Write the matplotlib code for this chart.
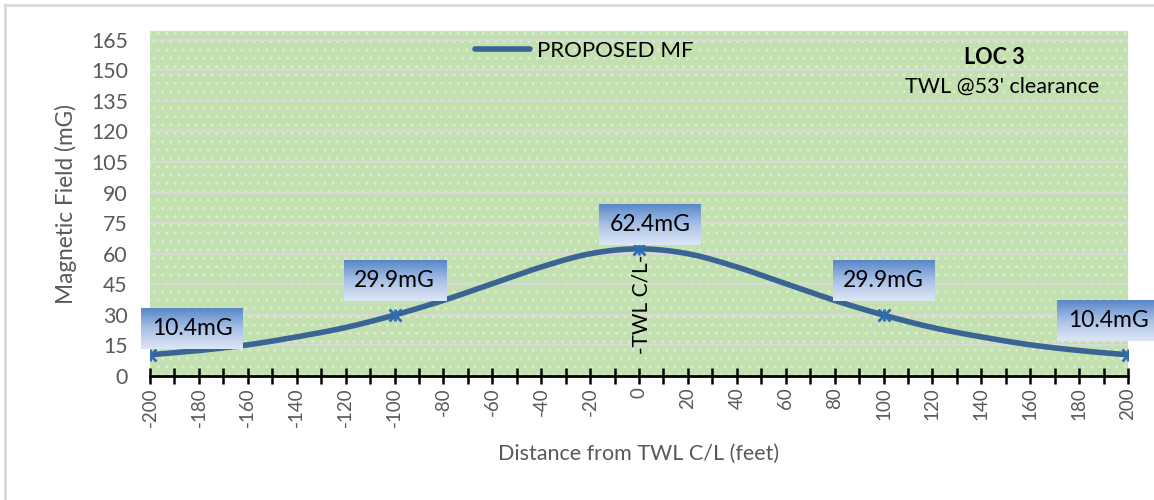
import matplotlib
matplotlib.use("Agg")
import matplotlib.pyplot as plt
import numpy as np
from matplotlib.patches import Rectangle
from matplotlib.lines import Line2D

plt.rcParams['font.family'] = ['Lato', 'DejaVu Sans']

# magnetic field profile across the line (every 20 ft)
distance = [-200, -180, -160, -140, -120, -100, -80, -60, -40, -20, 0,
            20, 40, 60, 80, 100, 120, 140, 160, 180, 200]
field = [10.4, 12.5, 15.3, 19.2, 23.8, 29.9, 37.1, 45.3, 53.5, 60.0, 62.4,
         60.0, 53.5, 45.3, 37.1, 29.9, 23.8, 19.2, 15.3, 12.5, 10.4]

# labelled points
mark_x = [-200, -100, 0, 100, 200]
mark_y = [10.4, 29.9, 62.4, 29.9, 10.4]
mark_text = ["10.4mG", "29.9mG", "62.4mG", "29.9mG", "10.4mG"]

y_ticks = list(range(0, 166, 15))
x_ticks = list(range(-200, 201, 20))

LINE = '#3a6494'
MARK = '#2e6db4'
GRAY = '#595959'


def smooth(x, y, n=12):
    """Catmull-Rom curve through the points (like Excel's smoothed line)."""
    x = np.asarray(x, float)
    y = np.asarray(y, float)
    px = np.concatenate([[2 * x[0] - x[1]], x, [2 * x[-1] - x[-2]]])
    py = np.concatenate([[2 * y[0] - y[1]], y, [2 * y[-1] - y[-2]]])
    xs, ys = [], []
    t = np.linspace(0, 1, n, endpoint=False)
    for i in range(1, len(px) - 2):
        for p, out in ((px, xs), (py, ys)):
            p0, p1, p2, p3 = p[i - 1], p[i], p[i + 1], p[i + 2]
            out.extend(0.5 * (2 * p1 + (-p0 + p2) * t
                              + (2 * p0 - 5 * p1 + 4 * p2 - p3) * t ** 2
                              + (-p0 + 3 * p1 - 3 * p2 + p3) * t ** 3))
    xs.append(x[-1])
    ys.append(y[-1])
    return np.array(xs), np.array(ys)


fig = plt.figure(figsize=(11.54, 5.0), dpi=100)
ax = fig.add_axes([0.13, 0.248, 0.8475, 0.69])

xmin, xmax, ymin, ymax = -200, 200, 0, 169.3

# green textured plot area
ax.add_patch(Rectangle((xmin, ymin), xmax - xmin, ymax - ymin, facecolor='#c3e0b0',
                       edgecolor='#d8edcb', hatch='..', linewidth=0, zorder=0))

for v in y_ticks[1:]:
    ax.axhline(v, color='#d9d9d9', linewidth=1.6, zorder=1)

sx, sy = smooth(distance, field)
ax.plot(sx, sy, color=LINE, linewidth=4, solid_capstyle='round', zorder=3)
ax.plot(mark_x, mark_y, linestyle='none', marker='x', markersize=9,
        markeredgewidth=2, color=MARK, zorder=4)
ax.plot(mark_x, mark_y, linestyle='none', marker='|', markersize=9,
        markeredgewidth=2, color=MARK, zorder=4)

# data labels with gradient boxes (offsets in px from the point)
px_x = (xmax - xmin) / (0.8475 * 1154)
px_y = (ymax - ymin) / (0.69 * 500)
box_w, box_h = 102, 41
offsets = [(42, 26), (0, 35), (11, 24), (0, 35), (-20, 34)]
grad = np.linspace(0, 1, 64)[:, None]
cmap = matplotlib.colors.LinearSegmentedColormap.from_list(
    'lbl', ['#5a87c8', '#a9c1e6', '#dde6f4'])
for x, y, s, (dx, dy) in zip(mark_x, mark_y, mark_text, offsets):
    cx = x + dx * px_x
    cy = y + dy * px_y
    w = box_w * px_x / 2
    h = box_h * px_y / 2
    ax.imshow(grad, cmap=cmap, extent=(cx - w, cx + w, cy - h, cy + h),
              aspect='auto', zorder=5, clip_on=False, interpolation='bilinear')
    ax.text(cx, cy, s, ha='center', va='center', fontsize=16.5, color='black',
            zorder=6, clip_on=False)

ax.text(1, 35, "-TWL C/L-", rotation=90, ha='center', va='center',
        fontsize=15, color='black', zorder=6)

ax.text(145.5, 156.5, "LOC 3", ha='center', va='center', fontsize=15.5,
        fontweight='bold', color='black')
ax.text(148.5, 141.8, "TWL @53' clearance", ha='center', va='center',
        fontsize=15.5, color='black')

handle = Line2D([], [], color=LINE, linewidth=4, solid_capstyle='round')
ax.legend([handle], ["PROPOSED MF"], loc='upper center', bbox_to_anchor=(0.444, 1.0),
          frameon=False, fontsize=16, handlelength=2.45, handletextpad=0.3,
          borderaxespad=0.05)

ax.set_xlim(xmin, xmax)
ax.set_ylim(ymin, ymax)
ax.set_xticks(x_ticks)
ax.set_xticklabels([str(v) for v in x_ticks], rotation=90)
ax.set_xticks(list(range(-190, 200, 20)), minor=True)
ax.set_yticks(y_ticks)

for side in ('left', 'right', 'top'):
    ax.spines[side].set_visible(False)
ax.spines['bottom'].set_linewidth(2)
ax.spines['bottom'].set_zorder(7)
ax.tick_params(axis='x', which='both', direction='inout', length=12, width=1.8,
               color='black', labelsize=13.5, labelcolor=GRAY, pad=2)
ax.tick_params(axis='y', length=0, labelsize=15.3, labelcolor=GRAY, pad=16)

ax.set_xlabel("Distance from TWL C/L (feet)", fontsize=15.5, color=GRAY, labelpad=12)
ax.set_ylabel("Magnetic Field (mG)", fontsize=16.3, color=GRAY, labelpad=10)

# chart frame
fig.add_artist(Line2D([0.0045, 0.0045], [0.0, 0.99], color='#d9d9d9', linewidth=2,
                      transform=fig.transFigure))
fig.add_artist(Line2D([0.0045, 1.0], [0.99, 0.99], color='#d9d9d9', linewidth=2,
                      transform=fig.transFigure))

fig.savefig("out.png", dpi=100)
